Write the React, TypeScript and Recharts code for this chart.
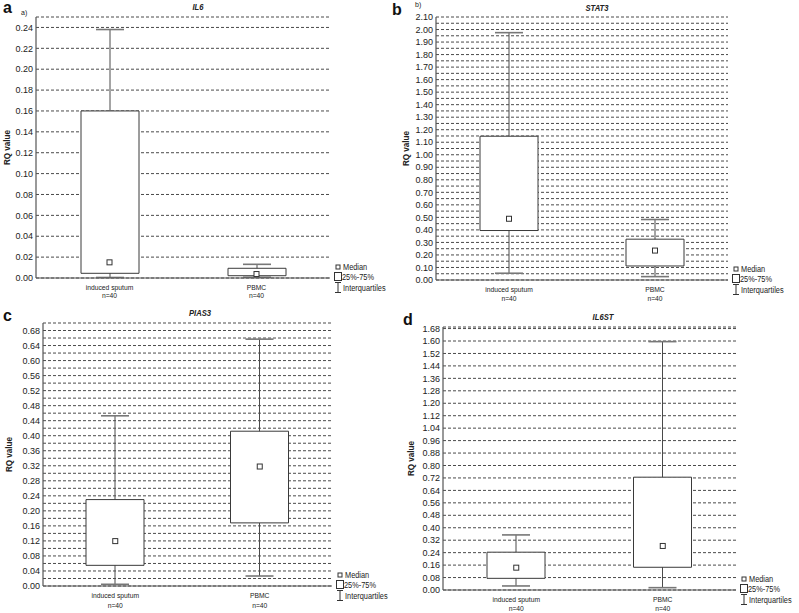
import React from 'react';
import { ComposedChart, Bar, Line, XAxis, YAxis, CartesianGrid } from 'recharts';

const categories = ['induced sputum', 'PBMC'];
const sampleSizes = ['n=40', 'n=40'];

// IL6
const il6Min = [0.0005, 0.0007];
const il6Q1 = [0.0045, 0.0022];
const il6Median = [0.015, 0.0038];
const il6Q3 = [0.16, 0.0093];
const il6Max = [0.238, 0.0131];
const il6Ticks = [0, 0.02, 0.04, 0.06, 0.08, 0.1, 0.12, 0.14, 0.16, 0.18, 0.2, 0.22, 0.24];

// STAT3
const stat3Min = [0.054, 0.027];
const stat3Q1 = [0.395, 0.112];
const stat3Median = [0.489, 0.235];
const stat3Q3 = [1.148, 0.326];
const stat3Max = [1.975, 0.483];
const stat3Ticks = [
  0, 0.05, 0.1, 0.15, 0.2, 0.25, 0.3, 0.35, 0.4, 0.45, 0.5, 0.55, 0.6, 0.65, 0.7, 0.75, 0.8, 0.85, 0.9, 0.95,
  1.0, 1.05, 1.1, 1.15, 1.2, 1.25, 1.3, 1.35, 1.4, 1.45, 1.5, 1.55, 1.6, 1.65, 1.7, 1.75, 1.8, 1.85, 1.9, 1.95,
  2.0, 2.05, 2.1,
];

// PIAS3
const pias3Min = [0.0045, 0.0266];
const pias3Q1 = [0.055, 0.168];
const pias3Median = [0.1195, 0.318];
const pias3Q3 = [0.23, 0.412];
const pias3Max = [0.453, 0.657];
const pias3Ticks = [
  0, 0.02, 0.04, 0.06, 0.08, 0.1, 0.12, 0.14, 0.16, 0.18, 0.2, 0.22, 0.24, 0.26, 0.28, 0.3, 0.32, 0.34,
  0.36, 0.38, 0.4, 0.42, 0.44, 0.46, 0.48, 0.5, 0.52, 0.54, 0.56, 0.58, 0.6, 0.62, 0.64, 0.66, 0.68,
];

// IL6ST
const il6stMin = [0.026, 0.015];
const il6stQ1 = [0.075, 0.146];
const il6stMedian = [0.1435, 0.283];
const il6stQ3 = [0.243, 0.725];
const il6stMax = [0.354, 1.596];
const il6stTicks = [
  0, 0.08, 0.16, 0.24, 0.32, 0.4, 0.48, 0.56, 0.64, 0.72, 0.8, 0.88, 0.96, 1.04, 1.12, 1.2, 1.28, 1.36,
  1.44, 1.52, 1.6, 1.68,
];

const legendLabels = ['Median', '25%-75%', 'Interquartiles'];
const yAxisTitle = 'RQ value';

const FONT = "'Liberation Sans', Arial, sans-serif";

type Row = { cat: string; n: string; whisker: number[]; box: number[]; median: number };

function buildRows(min: number[], q1: number[], med: number[], q3: number[], max: number[]): Row[] {
  return categories.map((c, i) => ({
    cat: c,
    n: sampleSizes[i],
    whisker: [min[i], max[i]],
    box: [q1[i], q3[i]],
    median: med[i],
  }));
}

const SText = ({ x, y, sx = 1, rot = 0, anchor = 'start', size, weight, italic, children }: any) => (
  <text
    transform={`translate(${x} ${y})${rot ? ` rotate(${rot})` : ''} scale(${sx} 1)`}
    x={0}
    y={0}
    textAnchor={anchor}
    fontSize={size}
    fontWeight={weight || 'normal'}
    fontStyle={italic ? 'italic' : 'normal'}
    fontFamily={FONT}
    fill="#222"
  >
    {children}
  </text>
);

const WhiskerShape = (p: any) => {
  const { x, y, width, height } = p;
  if (x == null || y == null) return <g />;
  const top = Math.min(y, y + height);
  const bot = Math.max(y, y + height);
  const cx = x + width / 2;
  return (
    <g>
      <line x1={cx} x2={cx} y1={top} y2={bot} stroke="#4a4a4a" strokeWidth={1} />
      <line x1={x} x2={x + width} y1={top} y2={top} stroke="#777" strokeWidth={1.6} />
      <line x1={x} x2={x + width} y1={bot} y2={bot} stroke="#777" strokeWidth={1.6} />
    </g>
  );
};

const MedianDot = (p: any) => {
  const { cx, cy, index } = p;
  if (cx == null || cy == null) return <g key={index} />;
  return <rect key={index} x={cx - 2.5} y={cy - 2.5} width={5} height={5} fill="#fff" stroke="#333" strokeWidth={1} />;
};

const CatTick = (p: any) => {
  const { x, y, payload, index, gap } = p;
  return (
    <g>
      <SText x={x} y={y + 11.5} sx={0.9} anchor="middle" size={7.5}>
        {payload.value}
      </SText>
      <SText x={x} y={y + 11.5 + gap} sx={0.9} anchor="middle" size={7.5}>
        {sampleSizes[index]}
      </SText>
    </g>
  );
};

const YW = 40;
const MT = 6;
const MR = 6;
const XH = 30;
const frame = { stroke: '#555', strokeWidth: 1.2 };

type PanelProps = {
  rows: Row[];
  ticks: number[];
  labelStep: number;
  max: number;
  L: number;
  T: number;
  R: number;
  B: number;
  nGap: number;
};

function Panel({ rows, ticks, labelStep, max, L, T, R, B, nGap }: PanelProps) {
  const w = YW + (R - L) + MR;
  const h = MT + (B - T) + XH;
  return (
    <div style={{ position: 'absolute', left: L - YW, top: T - MT }}>
      <ComposedChart width={w} height={h} data={rows} margin={{ top: MT, right: MR, left: 0, bottom: 0 }}>
        <CartesianGrid vertical={false} stroke="#4a4a4a" strokeDasharray="3 2" />
        <XAxis
          dataKey="cat"
          height={XH}
          axisLine={frame}
          tickLine={false}
          tickSize={0}
          tickMargin={0}
          interval={0}
          tick={<CatTick gap={nGap} />}
        />
        <XAxis
          xAxisId="top"
          orientation="top"
          mirror
          dataKey="cat"
          height={0}
          axisLine={frame}
          tickLine={{ stroke: '#555' }}
          tickSize={3}
          interval={0}
          tick={() => <g />}
        />
        <XAxis xAxisId="w" dataKey="cat" hide />
        <XAxis xAxisId="b" dataKey="cat" hide />
        <YAxis
          width={YW}
          domain={[0, max]}
          ticks={ticks}
          interval={0}
          tickLine={false}
          tickSize={2}
          tickMargin={1}
          axisLine={frame}
          tick={{ fontSize: 9, fill: '#222', fontFamily: FONT }}
          tickFormatter={(v: number, i: number) => (i % labelStep === 0 ? v.toFixed(2) : '')}
        />
        <YAxis yAxisId="r" orientation="right" width={0} domain={[0, max]} tick={false} tickLine={false} axisLine={frame} />
        <Bar xAxisId="w" dataKey="whisker" barSize={28} shape={WhiskerShape} isAnimationActive={false} />
        <Bar xAxisId="b" dataKey="box" barSize={58} fill="#fff" stroke="#3a3a3a" strokeWidth={1} isAnimationActive={false} />
        <Line dataKey="median" stroke="none" dot={MedianDot} activeDot={false} isAnimationActive={false} />
      </ComposedChart>
    </div>
  );
}

function LegendBlock({ R, B }: { R: number; B: number }) {
  const tx = R + 13;
  const y1 = B - 11;
  const y2 = B - 1.5;
  const y3 = B + 9.5;
  return (
    <g>
      <rect x={R + 6} y={y1 - 2} width={4} height={4} fill="#fff" stroke="#333" strokeWidth={1} />
      <SText x={tx} y={y1 + 3.2} sx={0.82} size={9}>{legendLabels[0]}</SText>
      <rect x={R + 4.5} y={y2 - 4} width={7} height={8} fill="#fff" stroke="#333" strokeWidth={1} />
      <SText x={tx - 1} y={y2 + 3.2} sx={0.82} size={9}>{legendLabels[1]}</SText>
      <line x1={R + 8} x2={R + 8} y1={y3 - 5} y2={y3 + 5} stroke="#333" strokeWidth={1} />
      <line x1={R + 5} x2={R + 11} y1={y3 - 5} y2={y3 - 5} stroke="#333" strokeWidth={1} />
      <line x1={R + 5} x2={R + 11} y1={y3 + 5} y2={y3 + 5} stroke="#333" strokeWidth={1} />
      <SText x={tx} y={y3 + 3.2} sx={0.82} size={9}>{legendLabels[2]}</SText>
    </g>
  );
}

const panels = [
  { key: 'a', title: 'IL6', rows: buildRows(il6Min, il6Q1, il6Median, il6Q3, il6Max), ticks: il6Ticks, labelStep: 1, max: 0.25, L: 36, T: 17, R: 330, B: 278, nGap: 8.5 },
  { key: 'b', title: 'STAT3', rows: buildRows(stat3Min, stat3Q1, stat3Median, stat3Q3, stat3Max), ticks: stat3Ticks, labelStep: 2, max: 2.1, L: 436, T: 17, R: 728, B: 280, nGap: 9 },
  { key: 'c', title: 'PIAS3', rows: buildRows(pias3Min, pias3Q1, pias3Median, pias3Q3, pias3Max), ticks: pias3Ticks, labelStep: 2, max: 0.7, L: 43, T: 323, R: 332, B: 586, nGap: 10 },
  { key: 'd', title: 'IL6ST', rows: buildRows(il6stMin, il6stQ1, il6stMedian, il6stQ3, il6stMax), ticks: il6stTicks, labelStep: 1, max: 1.69, L: 443, T: 327, R: 736, B: 590, nGap: 9 },
];

const titlePos = [
  { x: 198, y: 10 },
  { x: 597, y: 11 },
  { x: 200, y: 316 },
  { x: 603, y: 320 },
];
const letterPos = [
  { x: 3, y: 13 },
  { x: 392, y: 15 },
  { x: 3, y: 321 },
  { x: 403, y: 325 },
];
const yLabelX = [7, 406, 9, 411];

export default function App() {
  return (
    <div style={{ position: 'absolute', left: 0, top: 0, width: 799, height: 613, background: '#fff', overflow: 'hidden' }}>
      {panels.map((p) => (
        <Panel key={p.key} rows={p.rows} ticks={p.ticks} labelStep={p.labelStep} max={p.max} L={p.L} T={p.T} R={p.R} B={p.B} nGap={p.nGap} />
      ))}
      <svg width={799} height={613} style={{ position: 'absolute', left: 0, top: 0, pointerEvents: 'none' }}>
        {panels.map((p, i) => (
          <g key={p.key}>
            <text x={letterPos[i].x} y={letterPos[i].y} fontSize={16} fontWeight="bold" fontFamily={FONT} fill="#111">{p.key}</text>
            <SText x={titlePos[i].x} y={titlePos[i].y} sx={0.85} anchor="middle" size={9} weight="bold" italic>
              {p.title}
            </SText>
            <SText x={yLabelX[i] + 3} y={(p.T + p.B) / 2} rot={-90} sx={0.9} anchor="middle" size={9} weight="bold">
              {yAxisTitle}
            </SText>
            <LegendBlock R={p.R} B={p.B} />
          </g>
        ))}
        <text x={21} y={15} fontSize={7} fontFamily={FONT} fill="#222">a)</text>
        <text x={415} y={7} fontSize={7} fontFamily={FONT} fill="#222">b)</text>
      </svg>
    </div>
  );
}
